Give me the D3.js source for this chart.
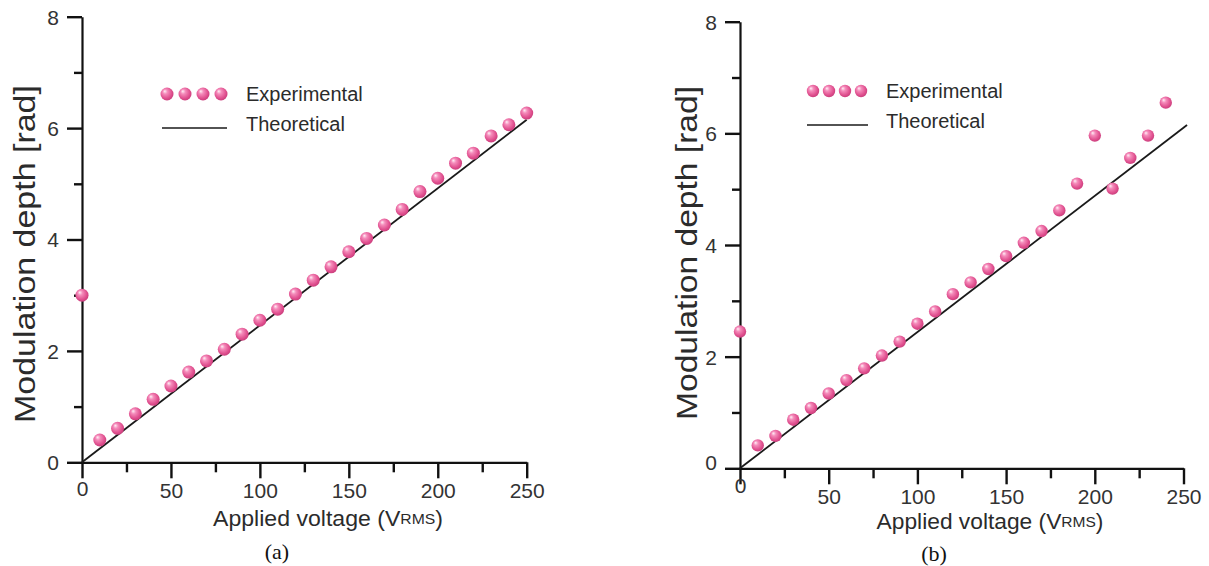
<!DOCTYPE html>
<html>
<head>
<meta charset="utf-8">
<script src="https://cdn.jsdelivr.net/npm/d3@7/dist/d3.min.js"></script>
<style>
  html, body { margin: 0; padding: 0; background: #fff; }
  svg { display: block; }
</style>
</head>
<body>
<svg id="chart" width="1209" height="566"></svg>
<script>
// ---- data ----
const voltageA = [0, 10, 20, 30, 40, 50, 60, 70, 80, 90, 100, 110, 120, 130, 140, 150, 160, 170, 180, 190, 200, 210, 220, 230, 240, 250];
const depthA   = [3.00, 0.40, 0.61, 0.87, 1.13, 1.37, 1.62, 1.82, 2.03, 2.30, 2.55, 2.75, 3.02, 3.27, 3.51, 3.78, 4.02, 4.26, 4.54, 4.86, 5.10, 5.37, 5.55, 5.86, 6.06, 6.27];

const voltageB = [0, 10, 20, 30, 40, 50, 60, 70, 80, 90, 100, 110, 120, 130, 140, 150, 160, 170, 180, 190, 200, 210, 220, 230, 240];
const depthB   = [2.45, 0.41, 0.58, 0.87, 1.08, 1.34, 1.58, 1.79, 2.02, 2.27, 2.59, 2.81, 3.12, 3.33, 3.57, 3.80, 4.04, 4.25, 4.62, 5.10, 5.96, 5.01, 5.56, 5.96, 6.55];

// theoretical straight-line model (end points)
const theoryVoltageA = [0, 250];
const theoryDepthA   = [0, 6.15];
const theoryVoltageB = [0, 252];
const theoryDepthB   = [0, 6.15];

const xMajorTicks = [0, 50, 100, 150, 200, 250];
const xMinorTicks = [25, 75, 125, 175, 225];
const yMajorTicks = [0, 2, 4, 6, 8];
const yMinorTicks = [1, 3, 5, 7];

const legendLabels = ["Experimental", "Theoretical"];
const xTitle = ["Applied voltage (V", "RMS", ")"];
const yTitle = "Modulation depth [rad]";

// ---- drawing ----
const svg = d3.select("#chart");
const INK = "#111111";
const SANS = "'Liberation Sans', Arial, sans-serif";

const grad = svg.append("defs").append("radialGradient")
  .attr("id", "ball").attr("cx", "45%").attr("cy", "42%").attr("r", "60%")
  .attr("fx", "32%").attr("fy", "28%");
grad.append("stop").attr("offset", "0%").attr("stop-color", "#fff0f6");
grad.append("stop").attr("offset", "30%").attr("stop-color", "#f58cbb");
grad.append("stop").attr("offset", "75%").attr("stop-color", "#e0508f");
grad.append("stop").attr("offset", "100%").attr("stop-color", "#c83c7a");

// horizontal stretch factor that brings a text element to the target width
function fitWidth(sel, target) {
  return target / sel.node().getBBox().width;
}

function panel(cfg) {
  const x = d3.scaleLinear().domain([0, 250]).range([cfg.x0, cfg.x1]);
  const y = d3.scaleLinear().domain([0, 8]).range([cfg.y0, cfg.y1]);
  const g = svg.append("g");

  // minor ticks
  g.append("g").attr("transform", `translate(0,${cfg.y0})`)
    .call(d3.axisBottom(x).tickValues(xMinorTicks).tickSize(10).tickSizeOuter(0).tickFormat(""))
    .call(a => a.select(".domain").remove())
    .call(a => a.selectAll(".tick line").attr("stroke", INK).attr("stroke-width", 2.4));
  g.append("g").attr("transform", `translate(${cfg.x0},0)`)
    .call(d3.axisLeft(y).tickValues(yMinorTicks).tickSize(8).tickSizeOuter(0).tickFormat(""))
    .call(a => a.select(".domain").remove())
    .call(a => a.selectAll(".tick line").attr("stroke", INK).attr("stroke-width", 2.4));

  // major axes with labels
  const xa = g.append("g").attr("transform", `translate(0,${cfg.y0})`)
    .call(d3.axisBottom(x).tickValues(xMajorTicks).tickSize(16).tickSizeOuter(0).tickPadding(6));
  const ya = g.append("g").attr("transform", `translate(${cfg.x0},0)`)
    .call(d3.axisLeft(y).tickValues(yMajorTicks).tickSize(15).tickSizeOuter(0).tickPadding(8));
  [xa, ya].forEach(a => {
    a.select(".domain").attr("stroke", INK).attr("stroke-width", 2.2);
    a.selectAll(".tick line").attr("stroke", INK).attr("stroke-width", 2.4);
    a.selectAll("text").attr("font-family", SANS).attr("font-size", 21).attr("fill", "#333");
  });
  xa.selectAll("text").attr("dy", null)
    .attr("dominant-baseline", "central")
    .attr("y", d => (d === 0 ? cfg.zeroLabelY : cfg.xLabelY) - cfg.y0);
  ya.selectAll("text").attr("dy", "0.35em")
    .attr("y", d => (d === 0 ? cfg.yZeroShift : 0));

  // theoretical line
  const line = d3.line().x(d => x(d[0])).y(d => y(d[1]));
  g.append("path")
    .datum(cfg.tv.map((v, i) => [v, cfg.td[i]]))
    .attr("d", line).attr("fill", "none").attr("stroke", "#1a1a1a").attr("stroke-width", 1.8);

  // experimental points
  g.append("g").selectAll("circle")
    .data(cfg.v.map((v, i) => [v, cfg.d[i]]))
    .join("circle")
    .attr("cx", d => x(d[0])).attr("cy", d => y(d[1]))
    .attr("r", cfg.r).attr("fill", "url(#ball)");

  // legend
  const lg = g.append("g");
  lg.selectAll("circle").data(cfg.legDots).join("circle")
    .attr("cx", d => d).attr("cy", cfg.legY1).attr("r", cfg.r)
    .attr("fill", "url(#ball)");
  lg.append("line").attr("x1", cfg.legLine[0]).attr("x2", cfg.legLine[1])
    .attr("y1", cfg.legY2).attr("y2", cfg.legY2)
    .attr("stroke", "#1a1a1a").attr("stroke-width", 1.6);
  legendLabels.forEach((t, i) => {
    lg.append("text").attr("x", cfg.legTextX).attr("y", i === 0 ? cfg.legY1 : cfg.legY2 - 4)
      .attr("dominant-baseline", "central")
      .attr("font-family", SANS).attr("font-size", 20).attr("fill", "#2b2b2b").text(t);
  });

  // x axis title
  const xtt = g.append("text").attr("text-anchor", "middle")
    .attr("dominant-baseline", "central")
    .attr("font-family", SANS).attr("font-size", 22).attr("fill", "#2b2b2b");
  xtt.append("tspan").text(xTitle[0]);
  xtt.append("tspan").attr("font-size", 15).text(xTitle[1]);
  xtt.append("tspan").text(xTitle[2]);
  const sx = fitWidth(xtt, cfg.xTitleW);
  xtt.attr("transform", `translate(${cfg.xTitleX},${cfg.xTitleY}) scale(${sx},1)`);

  // y axis title
  const ytt = g.append("text").attr("text-anchor", "middle")
    .attr("dominant-baseline", "central")
    .attr("font-family", SANS).attr("font-size", 30).attr("fill", "#2b2b2b").text(yTitle);
  const sy = fitWidth(ytt, cfg.yTitleW);
  ytt.attr("transform", `translate(${cfg.yTitleX},${cfg.yTitleY}) rotate(-90) scale(${sy},1)`);

  // caption
  g.append("text").attr("x", cfg.capX).attr("y", cfg.capY)
    .attr("text-anchor", "middle").attr("dominant-baseline", "central")
    .attr("font-family", "'Liberation Serif', 'Times New Roman', serif")
    .attr("font-size", 22).attr("fill", "#111").text(cfg.caption);
}

panel({
  x0: 82, x1: 526.7, y0: 462.3, y1: 16.7,
  v: voltageA, d: depthA, tv: theoryVoltageA, td: theoryDepthA, r: 6.5,
  xLabelY: 490.7, zeroLabelY: 489, yZeroShift: 0,
  legDots: [167, 185, 203, 221], legY1: 94, legY2: 128, legLine: [162, 227], legTextX: 246,
  xTitleX: 328, xTitleY: 518, xTitleW: 230,
  yTitleX: 25, yTitleY: 254, yTitleW: 338,
  capX: 277, capY: 551, caption: "(a)"
});

panel({
  x0: 740, x1: 1183.5, y0: 468.3, y1: 21.7,
  v: voltageB, d: depthB, tv: theoryVoltageB, td: theoryDepthB, r: 6.2,
  xLabelY: 497, zeroLabelY: 486, yZeroShift: -6,
  legDots: [813, 829, 845, 861], legY1: 91, legY2: 125, legLine: [807, 868], legTextX: 886,
  xTitleX: 990, xTitleY: 521, xTitleW: 227,
  yTitleX: 687, yTitleY: 253, yTitleW: 334,
  capX: 934, capY: 553, caption: "(b)"
});
</script>
</body>
</html>
